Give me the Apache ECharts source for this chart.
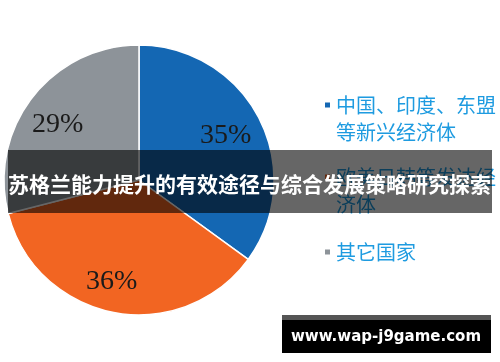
<!DOCTYPE html>
<html><head><meta charset="utf-8">
<script src="https://cdn.jsdelivr.net/npm/echarts@6/dist/echarts.min.js"></script>
<style>html,body{margin:0;padding:0;background:#fff}#c{width:500px;height:362px}</style>
</head><body><div id="c"></div>
<script>
const categories = ['中国、印度、东盟等新兴经济体', '欧美日韩等发达经济体', '其它国家'];
const legendLabels = ['中国、印度、东盟\n等新兴经济体', '欧美日韩等发达经\n济体', '其它国家'];
const values = [35, 36, 29];
const colors = ['#1467b3', '#f26522', '#8d9399'];
const bannerText = '苏格兰能力提升的有效途径与综合发展策略研究探索';
const siteText = 'www.wap-j9game.com';

const chart = echarts.init(document.getElementById('c'), null, {renderer: 'canvas'});
const data = categories.map((n, i) => ({name: n, value: values[i], itemStyle: {color: colors[i]}}));
const lh = 27;
const legendTops = [105, 177, 252];
const legends = categories.map((n, i) => {
  const two = legendLabels[i].indexOf('\n') >= 0;
  return {
    show: true, orient: 'vertical', left: 323,
    top: two ? legendTops[i] - 1.5 * lh : legendTops[i] - 0.5 * lh,
    padding: 0, icon: 'rect', itemWidth: 7, itemHeight: 7,
    selectedMode: false,
    data: [n],
    formatter: () => (two ? ' \n' : '') + legendLabels[i],
    textStyle: {
      color: '#1e9be0', fontSize: 20, lineHeight: lh,
      fontFamily: 'Noto Sans CJK SC'
    }
  };
});
const labelShift = [[-5, 2], [-8, 0], [0, 8]];
chart.setOption({
  animation: false,
  legend: legends,
  series: [{
    type: 'pie', center: [139, 180], radius: [0, 135],
    startAngle: 90, clockwise: true,
    silent: true,
    itemStyle: {borderColor: '#fff', borderWidth: 1.5},
    label: {show: false}, labelLine: {show: false},
    data: data
  }, {
    type: 'pie', center: [139, 180], radius: [0, 200],
    startAngle: 90, clockwise: true, silent: true,
    itemStyle: {color: 'rgba(0,0,0,0)', borderWidth: 0},
    label: {show: true, position: 'inside', formatter: '{c}%', color: '#1a1a1a',
      fontSize: 28, fontFamily: 'Liberation Serif'},
    labelLine: {show: false},
    data: categories.map((n, i) => ({name: n, value: values[i], itemStyle: {color: 'rgba(0,0,0,0)'},
      label: {offset: labelShift[i]}}))
  }],
  graphic: [
    {type: 'rect', shape: {x: 8, y: 150, width: 484, height: 63}, style: {fill: 'rgba(0,0,0,0.6)'}, z: 100},
    {type: 'text', x: 8, y: 184, style: {text: bannerText, fill: '#fff', fontSize: 21, fontWeight: 'bold',
      fontFamily: 'Noto Sans CJK SC', verticalAlign: 'middle', align: 'left'}, z: 101},
    {type: 'rect', shape: {x: 282, y: 315, width: 209, height: 38}, style: {fill: '#000'}, z: 100},
    {type: 'rect', shape: {x: 282, y: 315, width: 209, height: 5}, style: {fill: '#555'}, z: 101},
    {type: 'text', x: 386, y: 337, style: {text: siteText, fill: '#fff', fontSize: 15, fontWeight: 'bold',
      fontFamily: 'DejaVu Sans', verticalAlign: 'middle', align: 'center'}, z: 101}
  ]
});
</script></body></html>
